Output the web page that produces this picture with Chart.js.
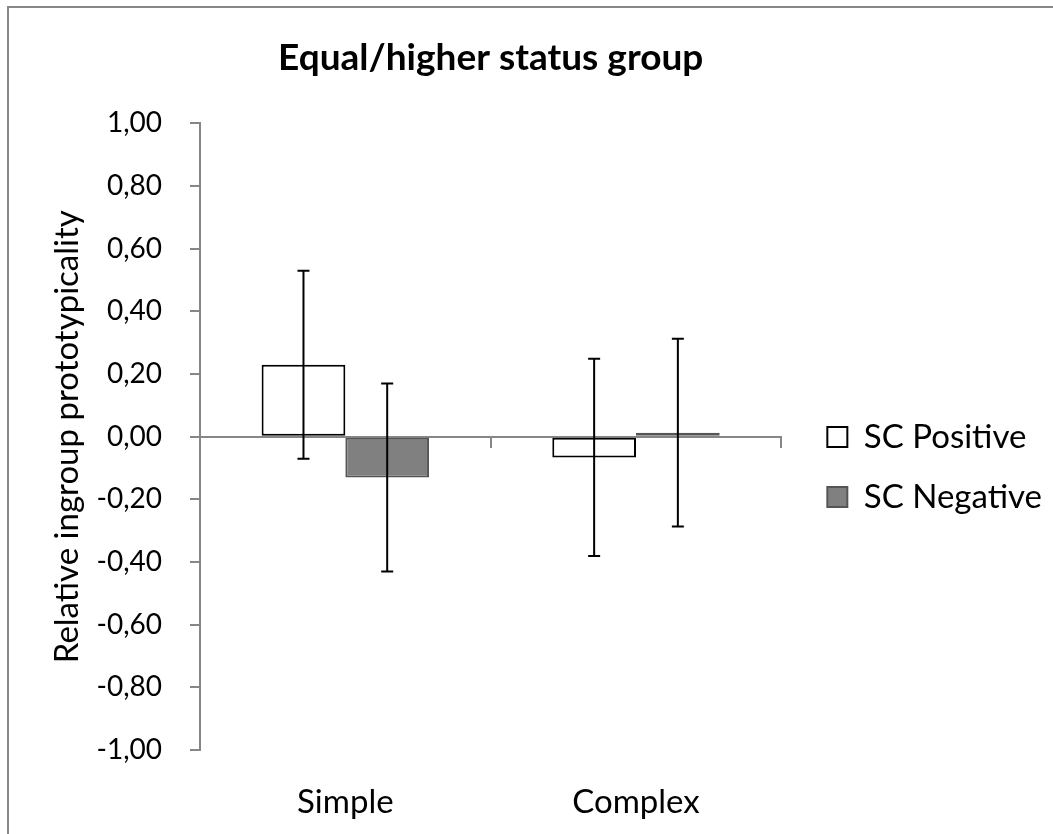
<!DOCTYPE html>
<html>
<head>
<meta charset="utf-8">
<script src="https://cdn.jsdelivr.net/npm/chart.js@4.4.0/dist/chart.umd.min.js"></script>
<style>
  html, body { margin: 0; padding: 0; background: #fff; }
  #wrap { position: relative; width: 1053px; height: 834px; overflow: hidden; }
  #frame { position: absolute; left: 7px; top: 6px; width: 1200px; height: 1000px;
           border: 2px solid #878787; box-sizing: border-box; }
  #chart { position: absolute; left: 0; top: 0; }
</style>
</head>
<body>
<div id="wrap">
  <div id="frame"></div>
  <canvas id="chart" width="1053" height="834"></canvas>
</div>
<script>
// ---- data ----
const categories = ['Simple', 'Complex'];
const seriesNames = ['SC Positive', 'SC Negative'];
const positiveValues = [0.23, -0.066];
const negativeValues = [-0.13, 0.013];
const positiveErrors = [0.30, 0.315];
const negativeErrors = [0.30, 0.30];
const yMin = -1, yMax = 1, yStep = 0.2;

const AXIS_GRAY = '#868686';

Chart.defaults.font.family = 'Lato';
Chart.defaults.color = '#000';

function formatTick(v) {
    const n = Math.abs(v) < 1e-9 ? 0 : v;
    return n.toFixed(2).replace('.', ',');
}

// symmetric error bars drawn on top of the bars
const errorBarPlugin = {
    id: 'errorBars',
    afterDatasetsDraw(chart) {
        const ctx = chart.ctx;
        const yScale = chart.scales.y;
        ctx.save();
        ctx.strokeStyle = '#000';
        ctx.lineWidth = 2;
        chart.data.datasets.forEach((ds, i) => {
            chart.getDatasetMeta(i).data.forEach((bar, j) => {
                const top = yScale.getPixelForValue(ds.data[j] + ds.errors[j]);
                const bottom = yScale.getPixelForValue(ds.data[j] - ds.errors[j]);
                ctx.beginPath();
                ctx.moveTo(bar.x, top);
                ctx.lineTo(bar.x, bottom);
                ctx.moveTo(bar.x - 6, top);
                ctx.lineTo(bar.x + 6, top);
                ctx.moveTo(bar.x - 6, bottom);
                ctx.lineTo(bar.x + 6, bottom);
                ctx.stroke();
            });
        });
        ctx.restore();
    }
};

// nudge the legend to where the original sits next to the plot
const legendOffset = {
    id: 'legendOffset',
    afterLayout(chart) {
        const lg = chart.legend;
        lg.left += 19; lg.right += 19;
        lg.top += 50; lg.bottom += 50;
    }
};

new Chart(document.getElementById('chart'), {
    type: 'bar',
    data: {
        labels: categories,
        datasets: [{
            label: seriesNames[0],
            data: positiveValues,
            errors: positiveErrors,
            backgroundColor: '#ffffff',
            borderColor: '#000000',
            borderWidth: 2,
            borderSkipped: false,
            categoryPercentage: 0.576,
            barPercentage: 1.0
        }, {
            label: seriesNames[1],
            data: negativeValues,
            errors: negativeErrors,
            backgroundColor: '#808080',
            borderColor: '#555555',
            borderWidth: 2,
            borderSkipped: false,
            categoryPercentage: 0.576,
            barPercentage: 1.0
        }]
    },
    options: {
        responsive: false,
        animation: false,
        layout: { padding: { top: 0, right: 20, bottom: 0, left: 0 } },
        plugins: {
            title: {
                display: true,
                text: 'Equal/higher status group',
                fullSize: false,
                font: { size: 37, weight: 'bold' },
                padding: { top: 36, bottom: 43 }
            },
            legend: {
                position: 'right',
                align: 'center',
                labels: {
                    boxWidth: 20,
                    boxHeight: 20,
                    padding: 27,
                    font: { size: 33 }
                }
            },
            tooltip: { enabled: false }
        },
        scales: {
            x: {
                position: { y: 0 },
                offset: true,
                ticks: { display: false },
                grid: { offset: true, drawOnChartArea: false, drawTicks: true, tickLength: 10, color: AXIS_GRAY, lineWidth: 2 },
                border: { color: AXIS_GRAY, width: 2 }
            },
            x2: {
                type: 'category',
                axis: 'x',
                position: 'bottom',
                offset: true,
                grid: { display: false, drawTicks: false },
                border: { display: false },
                ticks: { padding: 33, font: { size: 33 } },
                afterFit(scale) { scale.height = 84; }
            },
            y: {
                position: 'left',
                min: yMin,
                max: yMax,
                ticks: { stepSize: yStep, padding: 28, font: { size: 28 }, callback: formatTick },
                grid: { drawOnChartArea: false, drawTicks: true, tickLength: 10, color: AXIS_GRAY, lineWidth: 2 },
                border: { color: AXIS_GRAY, width: 2 },
                title: {
                    display: true,
                    text: 'Relative ingroup prototypicality',
                    font: { size: 33 },
                    padding: { top: 48, bottom: 0 }
                },
                afterFit(scale) { scale.width = 200; }
            }
        }
    },
    plugins: [errorBarPlugin, legendOffset]
});
</script>
</body>
</html>
